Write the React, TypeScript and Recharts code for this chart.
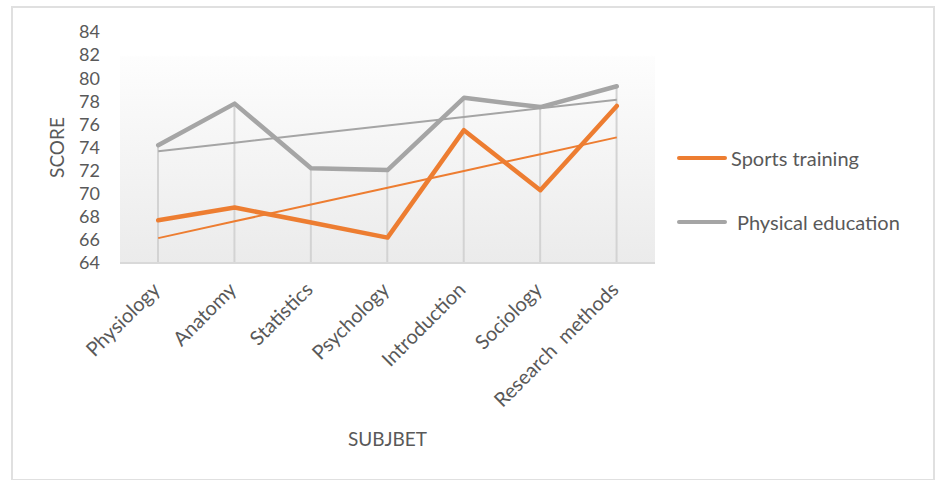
import React from 'react';
import { ComposedChart, Line, Bar, XAxis, YAxis, CartesianGrid, Label } from 'recharts';

const subjects = ['Physiology', 'Anatomy', 'Statistics', 'Psychology', 'Introduction', 'Sociology', 'Research  methods'];
const sportsTraining = [67.7, 68.8, 67.5, 66.2, 75.5, 70.3, 77.6];
const physicalEducation = [74.2, 77.8, 72.2, 72.05, 78.3, 77.5, 79.3];
const yTicks = [64, 66, 68, 70, 72, 74, 76, 78, 80, 82, 84];

const ORANGE = '#ed7d31';
const GRAY = '#a5a5a5';
const TEXT = '#595959';
const FONT = 'Lato, "Open Sans", sans-serif';

// linear trendline (least squares), like Excel's
const linearFit = (ys: number[]) => {
  const n = ys.length;
  const mx = (n - 1) / 2;
  const my = ys.reduce((a, b) => a + b, 0) / n;
  let sxy = 0;
  let sxx = 0;
  ys.forEach((y, i) => {
    sxy += (i - mx) * (y - my);
    sxx += (i - mx) * (i - mx);
  });
  const slope = sxy / sxx;
  return ys.map((_, i) => my + slope * (i - mx));
};

const sportsTrend = linearFit(sportsTraining);
const peTrend = linearFit(physicalEducation);

const data = subjects.map((subject, i) => ({
  subject,
  sports: sportsTraining[i],
  pe: physicalEducation[i],
  sportsTrend: sportsTrend[i],
  peTrend: peTrend[i],
  drop: Math.max(sportsTraining[i], physicalEducation[i]),
}));

const XTick = ({ x, y, payload }: any) => (
  <g transform={`translate(${x + 3},${y + 28})`}>
    <text
      x={0}
      y={0}
      textAnchor="end"
      transform="rotate(-45)"
      fill={TEXT}
      fontSize={20}
      fontFamily={FONT}
      style={{ whiteSpace: 'pre' }}
    >
      {payload.value}
    </text>
  </g>
);

const legendItems = [
  { name: 'Sports training', color: ORANGE, gap: 4 },
  { name: 'Physical education', color: GRAY, gap: 10 },
];

export default function App() {
  return (
    <div style={{ position: 'absolute', left: 0, top: 0, width: 938, height: 480, background: '#fff' }}>
      <div
        style={{
          position: 'absolute',
          left: 11,
          top: 6,
          width: 920,
          height: 471,
          border: '2px solid #e0e0e0',
        }}
      />
      <ComposedChart
        width={938}
        height={480}
        data={data}
        margin={{ top: 32, right: 283, bottom: 32, left: 20 }}
        style={{ position: 'absolute', left: 0, top: 0 }}
      >
        <defs>
          <linearGradient id="plotBg" x1="0" y1="0" x2="0" y2="1">
            <stop offset="0%" stopColor="#ffffff" />
            <stop offset="10%" stopColor="#ffffff" />
            <stop offset="11%" stopColor="#fdfdfd" />
            <stop offset="100%" stopColor="#ebebeb" />
          </linearGradient>
        </defs>
        <CartesianGrid horizontal={false} vertical={false} fill="url(#plotBg)" />
        <XAxis
          dataKey="subject"
          height={185}
          tickLine={false}
          tickSize={0}
          tickMargin={0}
          axisLine={{ stroke: '#d9d9d9', strokeWidth: 2 }}
          tick={<XTick />}
          interval={0}
        >
          <Label
            value="SUBJBET"
            position="insideBottom"
            offset={2}
            fill={TEXT}
            fontSize={19}
            fontFamily={FONT}
          />
        </XAxis>
        <YAxis
          type="number"
          domain={[64, 84]}
          ticks={yTicks}
          interval={0}
          width={100}
          axisLine={false}
          tickLine={false}
          tickSize={0}
          tickMargin={20}
          tick={{ fill: TEXT, fontSize: 18, fontFamily: FONT }}
        >
          <Label
            content={({ viewBox }: any) => {
              const cx = viewBox.x + 36;
              const cy = viewBox.y + viewBox.height / 2;
              return (
                <text
                  x={cx}
                  y={cy}
                  transform={`rotate(-90 ${cx} ${cy})`}
                  textAnchor="middle"
                  dominantBaseline="central"
                  fill={TEXT}
                  fontSize={19}
                  fontFamily={FONT}
                >
                  SCORE
                </text>
              );
            }}
          />
        </YAxis>
        <Bar dataKey="drop" barSize={2} fill="#d3d3d3" legendType="none" isAnimationActive={false} />
        <Line dataKey="peTrend" stroke={GRAY} strokeWidth={2} dot={false} activeDot={false} isAnimationActive={false} />
        <Line dataKey="sportsTrend" stroke={ORANGE} strokeWidth={2} dot={false} activeDot={false} isAnimationActive={false} />
        <Line
          dataKey="pe"
          name="Physical education"
          stroke={GRAY}
          strokeWidth={4.5}
          strokeLinejoin="round"
          strokeLinecap="round"
          dot={false}
          isAnimationActive={false}
        />
        <Line
          dataKey="sports"
          name="Sports training"
          stroke={ORANGE}
          strokeWidth={4.5}
          strokeLinejoin="round"
          strokeLinecap="round"
          dot={false}
          isAnimationActive={false}
        />
      </ComposedChart>
      <div style={{ position: 'absolute', left: 677, top: 143, fontFamily: FONT, fontSize: 20, color: TEXT }}>
        {legendItems.map((item, i) => (
          <div key={item.name} style={{ display: 'flex', alignItems: 'center', height: 30, marginTop: i ? 34 : 0 }}>
            <span style={{ display: 'inline-block', width: 50, height: 4, background: item.color, borderRadius: 2 }} />
            <span style={{ marginLeft: item.gap }}>{item.name}</span>
          </div>
        ))}
      </div>
    </div>
  );
}
